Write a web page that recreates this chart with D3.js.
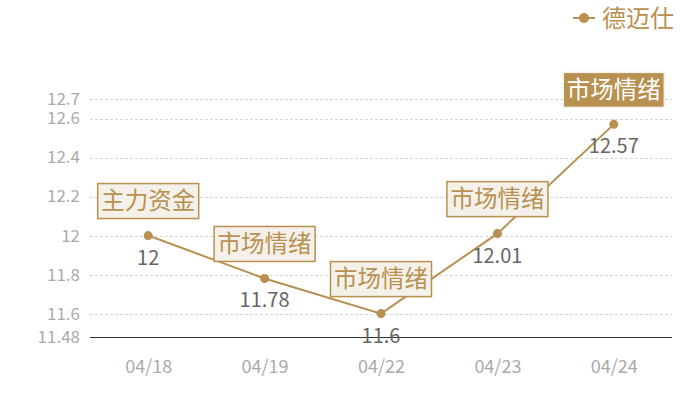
<!DOCTYPE html>
<html>
<head>
<meta charset="utf-8">
<script src="https://cdn.jsdelivr.net/npm/d3@7"></script>
<style>
  body { margin: 0; background: #fff; }
  svg { font-family: "Noto Sans CJK SC", "Noto Sans", sans-serif; }
</style>
</head>
<body>
<div id="chart"></div>
<script>
const dates = ["04/18", "04/19", "04/22", "04/23", "04/24"];
const prices = [12, 11.78, 11.6, 12.01, 12.57];
const tags = ["主力资金", "市场情绪", "市场情绪", "市场情绪", "市场情绪"];
const yTicks = [11.48, 11.6, 11.8, 12, 12.2, 12.4, 12.6, 12.7];
const seriesName = "德迈仕";

const width = 700, height = 400;
const margin = { top: 99, right: 28, bottom: 63, left: 90 };
const gold = "#b8904f";

const svg = d3.select("#chart").append("svg")
  .attr("width", width)
  .attr("height", height);

const x = d3.scalePoint()
  .domain(dates)
  .range([margin.left, width - margin.right])
  .padding(0.5);

const y = d3.scaleLinear()
  .domain([11.48, 12.7])
  .range([height - margin.bottom, margin.top]);

// grid lines
svg.append("g")
  .selectAll("line")
  .data(yTicks.filter(d => d !== 11.48))
  .enter().append("line")
  .attr("x1", margin.left)
  .attr("x2", width - margin.right)
  .attr("y1", d => Math.round(y(d)) + 0.5)
  .attr("y2", d => Math.round(y(d)) + 0.5)
  .attr("stroke", "#d6d6d6")
  .attr("stroke-dasharray", "3,2");

// y axis labels
const yAxis = svg.append("g")
  .attr("transform", `translate(${margin.left},0)`)
  .call(d3.axisLeft(y).tickValues(yTicks).tickSize(0).tickPadding(10).tickFormat(d => d));
yAxis.select(".domain").remove();
yAxis.selectAll("text")
  .attr("fill", "#aaaaaa")
  .style("font-size", "17px")
  .style("font-family", "\"Noto Sans CJK SC\", sans-serif");

// baseline
svg.append("line")
  .attr("x1", margin.left)
  .attr("x2", width - margin.right)
  .attr("y1", Math.round(y(11.48)) + 0.5)
  .attr("y2", Math.round(y(11.48)) + 0.5)
  .attr("stroke", "#333")
  .attr("stroke-width", 1);

// x axis labels
const xAxis = svg.append("g")
  .attr("transform", `translate(0,${y(11.48)})`)
  .call(d3.axisBottom(x).tickSize(0).tickPadding(23));
xAxis.select(".domain").remove();
xAxis.selectAll("text")
  .attr("fill", "#aaaaaa")
  .style("font-size", "18px")
  .style("font-family", "\"Noto Sans CJK SC\", sans-serif");

const points = dates.map((d, i) => ({ date: d, value: prices[i], tag: tags[i] }));

// line
svg.append("path")
  .datum(points)
  .attr("fill", "none")
  .attr("stroke", gold)
  .attr("stroke-width", 2)
  .attr("d", d3.line().x(d => x(d.date)).y(d => y(d.value)));

svg.selectAll(".dot")
  .data(points)
  .enter().append("circle")
  .attr("class", "dot")
  .attr("cx", d => x(d.date))
  .attr("cy", d => y(d.value))
  .attr("r", 4.5)
  .attr("fill", gold);

// value labels
svg.selectAll(".val")
  .data(points)
  .enter().append("text")
  .attr("class", "val")
  .attr("x", d => x(d.date))
  .attr("y", d => y(d.value) + 29)
  .attr("text-anchor", "middle")
  .attr("fill", "#666")
  .style("font-size", "20px")
  .text(d => d.value);

// tag boxes
const boxW = 101, boxH = 35;
const tagG = svg.selectAll(".tag")
  .data(points)
  .enter().append("g")
  .attr("class", "tag")
  .attr("transform", d => `translate(${x(d.date) - boxW / 2},${y(d.value) - 17 - boxH})`);

tagG.append("rect")
  .attr("width", boxW)
  .attr("height", boxH)
  .attr("fill", (d, i) => i === points.length - 1 ? gold : "#f4f0ea")
  .attr("stroke", (d, i) => i === points.length - 1 ? "#f4f0ea" : gold)
  .attr("stroke-width", 1.5);

tagG.append("text")
  .attr("x", boxW / 2)
  .attr("y", boxH / 2 + 8)
  .attr("text-anchor", "middle")
  .attr("fill", (d, i) => i === points.length - 1 ? "#fff" : gold)
  .style("font-size", "23.5px")
  .text(d => d.tag);

// legend
const legend = svg.append("g").attr("transform", "translate(573,18)");
legend.append("line")
  .attr("x1", 0).attr("x2", 22)
  .attr("stroke", gold).attr("stroke-width", 2);
legend.append("circle")
  .attr("cx", 11).attr("r", 5).attr("fill", gold);
legend.append("text")
  .attr("x", 29)
  .attr("y", 8.5)
  .attr("fill", gold)
  .style("font-size", "24px")
  .text(seriesName);
</script>
</body>
</html>
